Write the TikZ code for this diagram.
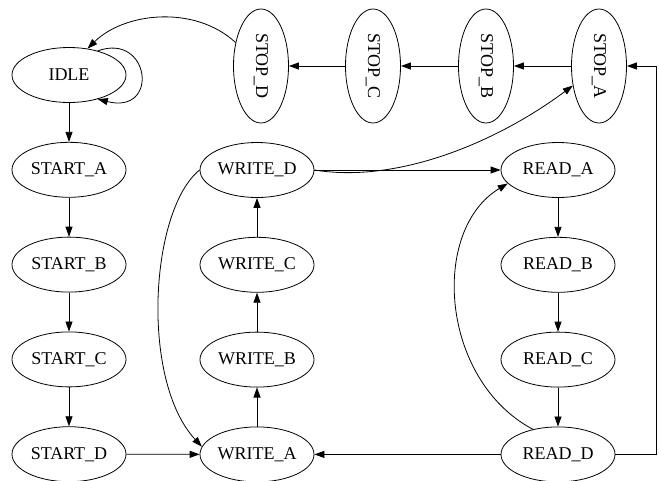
\documentclass[tikz,border=0pt]{standalone}
\usepackage{fontspec}
\setmainfont{Liberation Serif}
\usetikzlibrary{arrows.meta,positioning,shapes.geometric}

\begin{document}
\begin{tikzpicture}[
  x=1pt, y=-1pt,
  font=\fontsize{18}{20}\selectfont,
  >={Triangle[length=10pt,width=7pt]},
  state/.style={ellipse, draw=black, line width=0.8pt, inner sep=0pt,
                minimum width=114pt, minimum height=55pt},
  stopstate/.style={state, rotate=-90},
  arr/.style={->, line width=0.8pt, draw=black},
  node distance=39pt,
]
\useasboundingbox (0,0) rectangle (659,480);
% start chain
\node[state] (idle) at (69,75) {IDLE};
\node[state, below=of idle] (starta) {START\_A};
\node[state, below=of starta] (startb) {START\_B};
\node[state, below=of startb] (startc) {START\_C};
\node[state, below=of startc] (startd) {START\_D};
% write chain
\node[state] (wd) at (257,170) {WRITE\_D};
\node[state, below=of wd] (wc) {WRITE\_C};
\node[state, below=of wc] (wb) {WRITE\_B};
\node[state, below=of wb] (wa) {WRITE\_A};
% read chain
\node[state] (ra) at (558,170) {READ\_A};
\node[state, below=of ra] (rb) {READ\_B};
\node[state, below=of rb] (rc) {READ\_C};
\node[state, below=of rc] (rd) {READ\_D};
% stop row
\node[stopstate] (stopd) at (261,66) {STOP\_D};
\node[stopstate] (stopc) at (373,66) {STOP\_C};
\node[stopstate] (stopb) at (486,66) {STOP\_B};
\node[stopstate] (stopa) at (599,66) {STOP\_A};

\draw[arr] (idle.40) .. controls (150,32) and (160,115) .. (idle.-40);
\draw[arr] (idle) -- (starta);
\draw[arr] (starta) -- (startb);
\draw[arr] (startb) -- (startc);
\draw[arr] (startc) -- (startd);
\draw[arr] (startd) -- (wa);
\draw[arr] (wa) -- (wb);
\draw[arr] (wb) -- (wc);
\draw[arr] (wc) -- (wd);
\draw[arr] (wd.west) .. controls (150,210) and (140,380) .. (wa.172);
\draw[arr] (wd) -- (ra);
\draw[arr] (wd.east) .. controls (400,184) and (500,140) .. (stopa);
\draw[arr] (ra) -- (rb);
\draw[arr] (rb) -- (rc);
\draw[arr] (rc) -- (rd);
\draw[arr] (rd.135) .. controls (440,380) and (430,230) .. (ra.195);
\draw[arr] (rd) -- (wa);
\draw[arr] (rd.east) -- ++(41,0) |- (stopa);
\draw[arr] (stopa) -- (stopb);
\draw[arr] (stopb) -- (stopc);
\draw[arr] (stopc) -- (stopd);
\draw[arr] (stopd) .. controls (195,5) and (125,12) .. (idle.55);
\end{tikzpicture}
\end{document}
